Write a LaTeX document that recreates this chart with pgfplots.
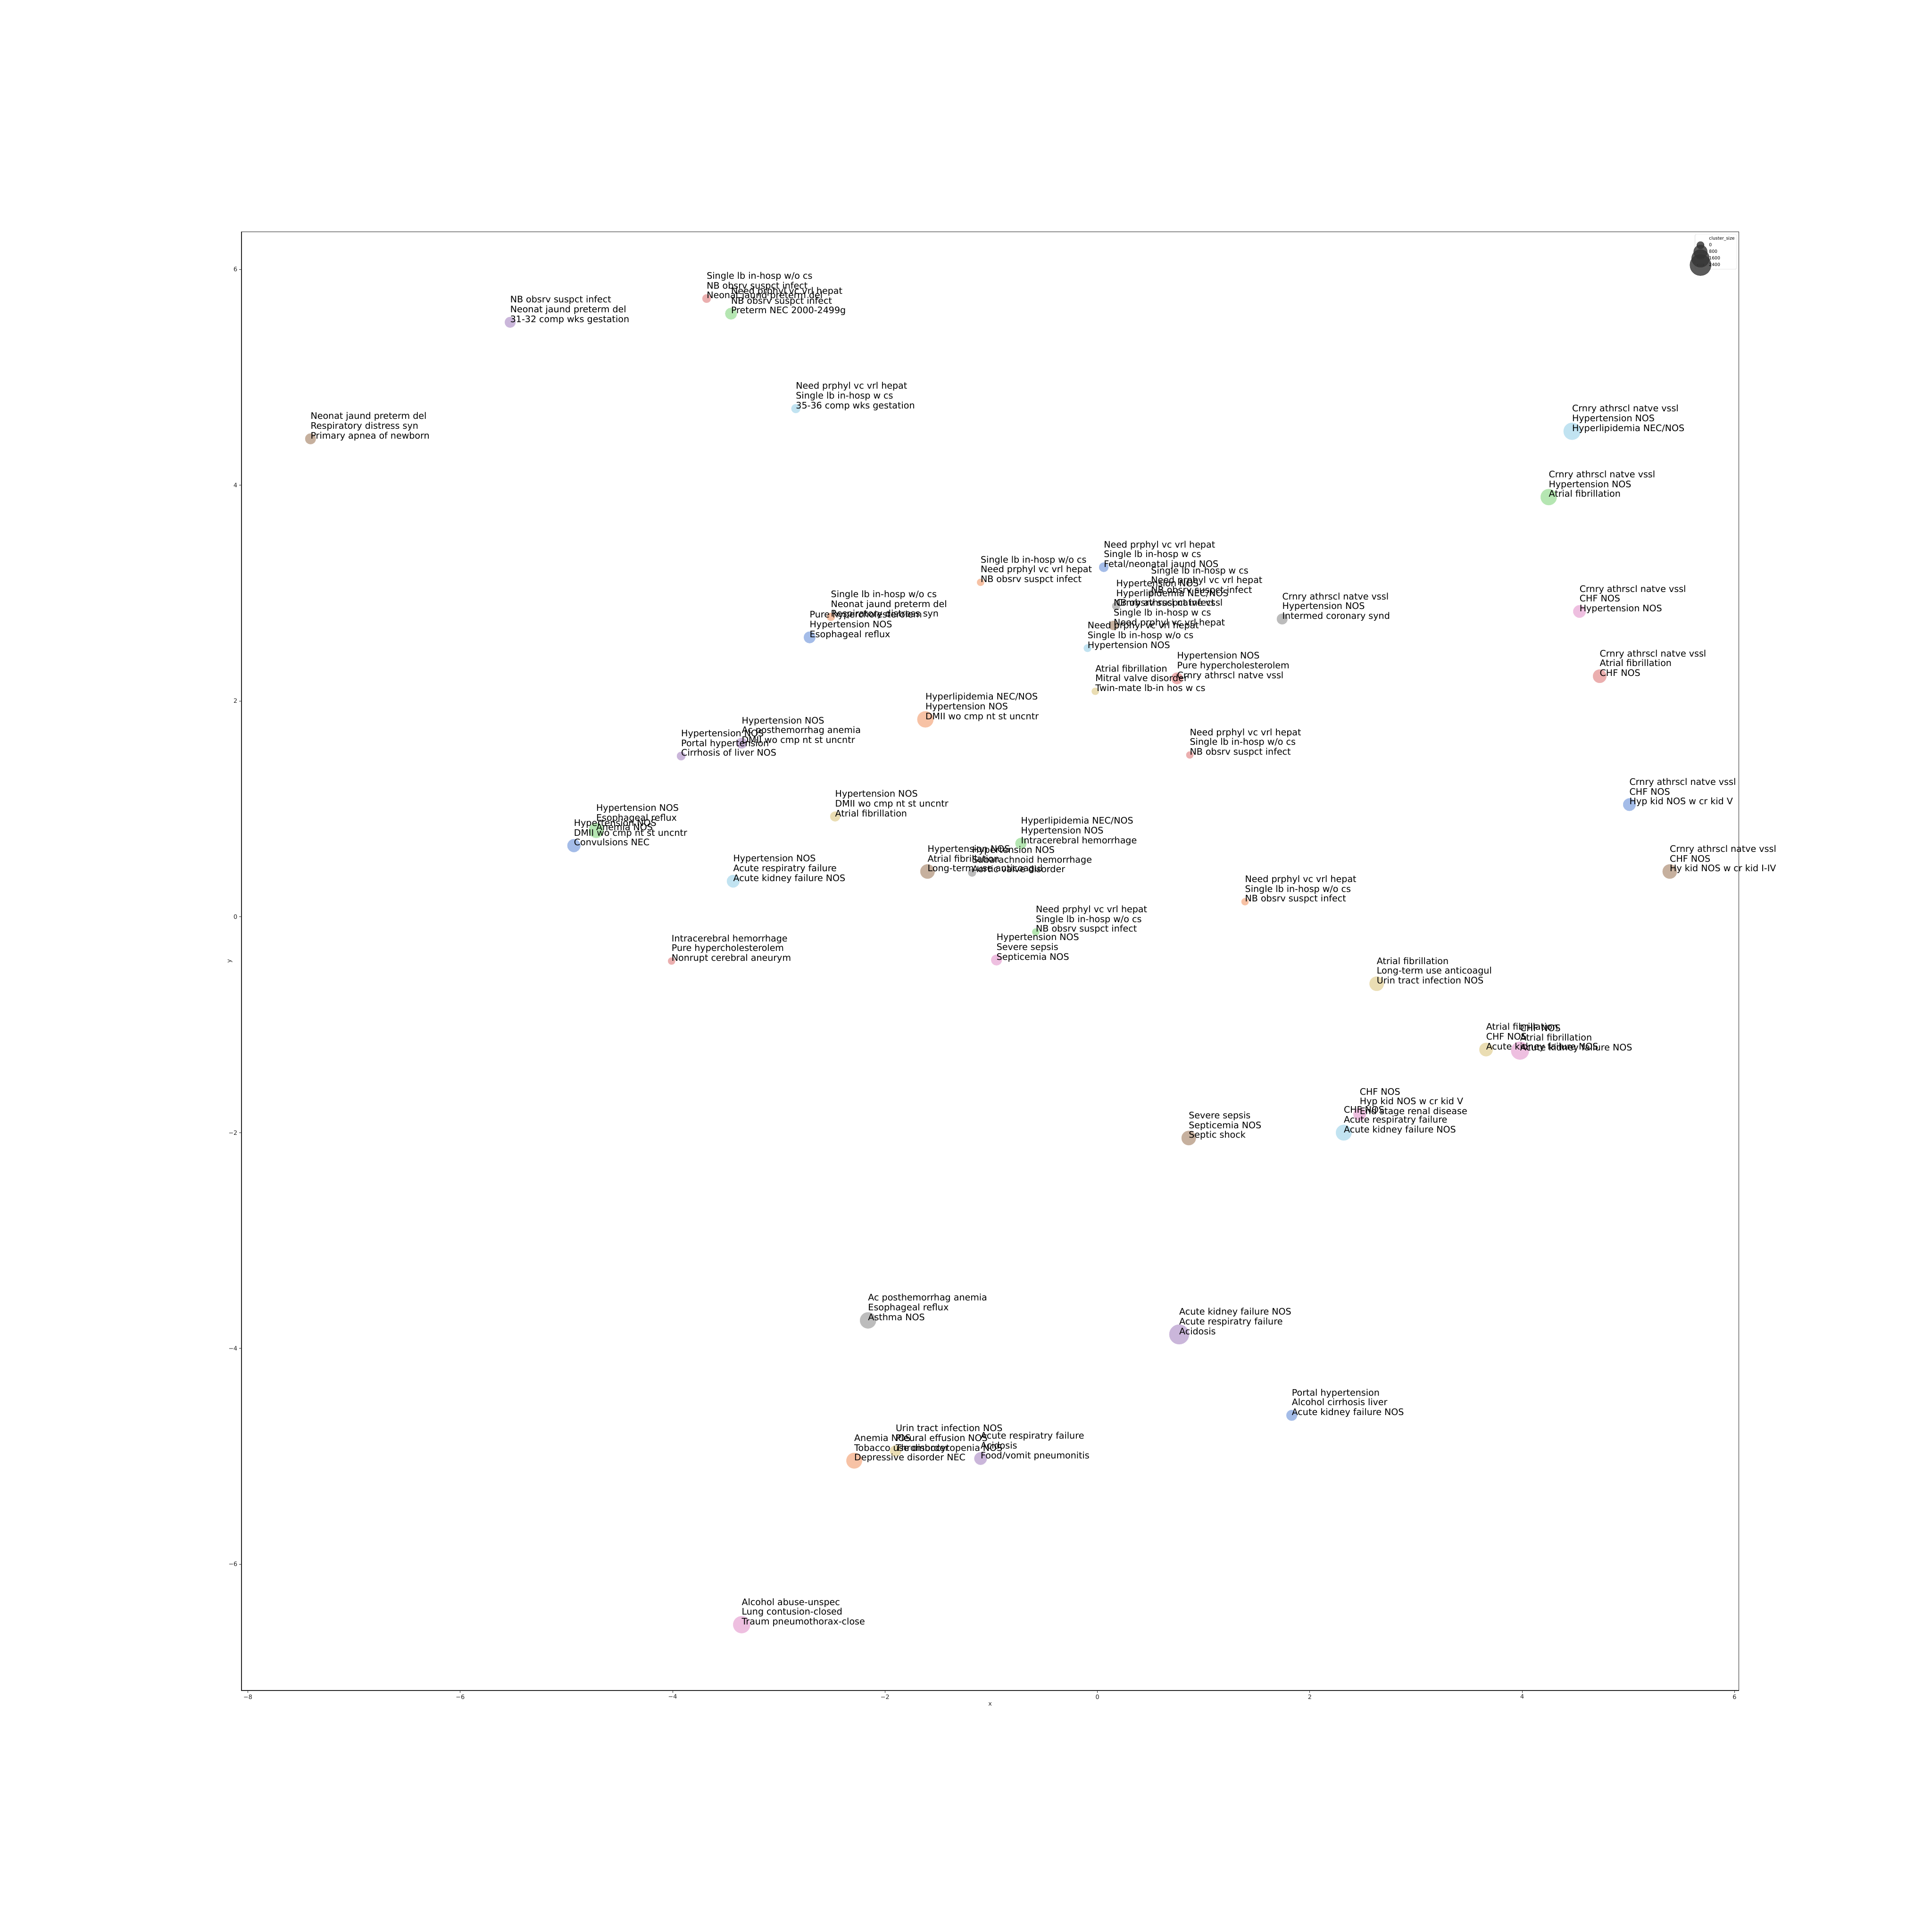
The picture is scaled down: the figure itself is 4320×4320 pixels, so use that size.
\documentclass[border=0pt]{standalone}
\usepackage{fontspec}
\setmainfont{DejaVu Sans}
\usepackage{pgfplots}
\pgfplotsset{compat=1.18}
\usepackage{pgfplotstable}

\definecolor{cb}{RGB}{164,188,232}
\definecolor{co}{RGB}{247,194,165}
\definecolor{cg}{RGB}{181,230,178}
\definecolor{cr}{RGB}{235,175,175}
\definecolor{cp}{RGB}{202,182,218}
\definecolor{cn}{RGB}{198,176,158}
\definecolor{ck}{RGB}{238,191,224}
\definecolor{ca}{RGB}{188,188,188}
\definecolor{cy}{RGB}{234,221,179}
\definecolor{cc}{RGB}{193,227,241}
\definecolor{legc}{RGB}{51,51,51}
\definecolor{spine}{RGB}{38,38,38}

\newcommand\lblfont{\fontsize{20.1}{21.7}\selectfont}
\newcommand\legfont{\fontsize{9.8}{11}\selectfont}
\newcommand\tickfont{\fontsize{13.5}{16}\selectfont}
\newcommand\lb[3]{\vbox{\baselineskip=21.8pt\lineskiplimit=-100pt\lineskip=0pt\hbox{#1}\hbox{#2}\hbox{#3}}}
% anchor coordinate inside the axis
\newcommand\C[3]{\coordinate (p#1) at (axis cs:#2,#3);}
% label drawn after the axis, on top of the marks
\newcommand\T[4]{\node[anchor=base west, inner sep=0pt, font=\lblfont] at (p#1) {\lb{#2}{#3}{#4}};}

\pgfplotstableread{
x y r c
-3.68 5.73 9.5 r
-3.45 5.59 13 g
-5.53 5.51 12 p
-7.41 4.43 12 n
-2.84 4.71 10 c
4.47 4.50 19 c
4.25 3.89 18 g
4.54 2.83 14 k
4.73 2.23 15 r
5.01 1.04 14 b
5.39 0.42 16 n
1.74 2.76 12 a
0.06 3.24 10.5 b
0.505 3.00 7.5 a
0.177 2.88 9 a
0.153 2.70 10.5 n
-0.093 2.49 8.5 c
-1.10 3.10 8 o
0.75 2.21 13 r
-0.02 2.09 8 y
0.87 1.50 8 r
-1.62 1.83 18 o
-2.51 2.78 9 o
-2.71 2.59 13 b
-3.92 1.49 9.5 p
-3.35 1.61 12 p
-4.93 0.66 14.5 b
-4.72 0.80 16.5 g
-2.47 0.93 11 y
-3.43 0.33 14 c
-0.72 0.68 12.5 g
-1.60 0.42 16 n
-1.18 0.41 9 a
-4.01 -0.41 8 r
-0.58 -0.14 8 g
-0.95 -0.40 12 k
1.39 0.14 8 o
2.63 -0.62 16 y
3.66 -1.23 15 y
3.98 -1.24 20 k
2.47 -1.83 14 k
2.32 -2.00 17.5 c
0.86 -2.05 16 n
-2.16 -3.74 18 a
0.77 -3.87 22 p
1.83 -4.62 12 b
-2.29 -5.04 17.5 o
-1.90 -4.95 12.5 y
-1.10 -5.02 14 p
-3.35 -6.56 19 k
}\pts

\begin{document}
\begin{tikzpicture}
\fill[white] (0,0) rectangle (4320pt,4320pt);
\useasboundingbox (0,0) rectangle (4320pt,4320pt);
\begin{axis}[
  at={(540pt,540pt)}, anchor=south west,
  scale only axis, width=3348pt, height=3262pt,
  xmin=-8.06, xmax=6.04, ymin=-7.17, ymax=6.35,
  clip=false,
  axis line style={line width=1.1pt, spine},
  tick align=outside, xtick pos=left, ytick pos=left,
  major tick length=4.9pt,
  tick style={line width=1.1pt, spine},
  xtick={-8,-6,-4,-2,0,2,4,6}, xticklabels={−8,−6,−4,−2,0,2,4,6},
  ytick={-6,-4,-2,0,2,4,6}, yticklabels={−6,−4,−2,0,2,4,6},
  ticklabel style={font=\tickfont, inner sep=4pt, text=spine},
  xlabel={x}, ylabel={y},
  label style={font=\tickfont, text=spine},
  ylabel style={xshift=0pt, yshift=-16pt},
  legend style={at={(1,1)}, anchor=north east, xshift=-5pt, yshift=-6pt,
    draw=black!20, fill=white, fill opacity=0.8, draw opacity=1, text opacity=1,
    rounded corners=2pt, font=\legfont, inner xsep=4pt, inner ysep=3.6pt,
    row sep=3pt, column sep=11pt,
    nodes={inner sep=0pt, text height=8.5pt, text depth=3.25pt}},
  legend cell align=left,
]
\addplot[scatter, only marks, mark=*, forget plot, point meta=explicit symbolic,
  scatter/classes={b={mark=*,cb}, o={mark=*,co}, g={mark=*,cg}, r={mark=*,cr},
    p={mark=*,cp}, n={mark=*,cn}, k={mark=*,ck}, a={mark=*,ca}, y={mark=*,cy}, c={mark=*,cc}},
  visualization depends on={\thisrow{r}\as\rr},
  scatter/@pre marker code/.append style={/tikz/mark size=\rr}]
  table[x=x, y=y, meta=c]{\pts};

\C{1}{-3.68}{5.73}
\C{2}{-3.45}{5.59}
\C{3}{-5.53}{5.51}
\C{4}{-7.41}{4.43}
\C{5}{-2.84}{4.71}
\C{6}{4.47}{4.50}
\C{7}{4.25}{3.89}
\C{8}{4.54}{2.83}
\C{9}{4.73}{2.23}
\C{10}{5.01}{1.04}
\C{11}{5.39}{0.42}
\C{12}{1.74}{2.76}
\C{13}{0.06}{3.24}
\C{14}{0.505}{3.00}
\C{15}{0.177}{2.88}
\C{16}{0.153}{2.70}
\C{17}{-0.093}{2.49}
\C{18}{-1.10}{3.10}
\C{19}{0.75}{2.21}
\C{20}{-0.02}{2.09}
\C{21}{0.87}{1.50}
\C{22}{-1.62}{1.83}
\C{23}{-2.51}{2.78}
\C{24}{-2.71}{2.59}
\C{25}{-3.92}{1.49}
\C{26}{-3.35}{1.61}
\C{27}{-4.93}{0.66}
\C{28}{-4.72}{0.80}
\C{29}{-2.47}{0.93}
\C{30}{-3.43}{0.33}
\C{31}{-0.72}{0.68}
\C{32}{-1.60}{0.42}
\C{33}{-1.18}{0.41}
\C{34}{-4.01}{-0.41}
\C{35}{-0.58}{-0.14}
\C{36}{-0.95}{-0.40}
\C{37}{1.39}{0.14}
\C{38}{2.63}{-0.62}
\C{39}{3.66}{-1.23}
\C{40}{3.98}{-1.24}
\C{41}{2.47}{-1.83}
\C{42}{2.32}{-2.00}
\C{43}{0.86}{-2.05}
\C{44}{-2.16}{-3.74}
\C{45}{0.77}{-3.87}
\C{46}{1.83}{-4.62}
\C{47}{-2.29}{-5.04}
\C{48}{-1.90}{-4.95}
\C{49}{-1.10}{-5.02}
\C{50}{-3.35}{-6.56}

\addlegendimage{empty legend}
\addlegendentry{cluster\_size}
\addlegendimage{legend image code/.code={\path (0pt,-2pt) rectangle (16pt,2pt); \fill[overlay,legc] (8pt,0pt) circle (8.3pt);}}
\addlegendentry{0}
\addlegendimage{legend image code/.code={\path (0pt,-2pt) rectangle (16pt,2pt); \fill[overlay,legc] (8pt,0pt) circle (15.3pt);}}
\addlegendentry{800}
\addlegendimage{legend image code/.code={\path (0pt,-2pt) rectangle (16pt,2pt); \fill[overlay,legc] (8pt,0pt) circle (19.9pt);}}
\addlegendentry{1600}
\addlegendimage{legend image code/.code={\path (0pt,-2pt) rectangle (16pt,2pt); \fill[overlay,legc] (8pt,0pt) circle (23.7pt);}}
\addlegendentry{2400}
\end{axis}

\T{1}{Single lb in-hosp w/o cs}{NB obsrv suspct infect}{Neonat jaund preterm del}
\T{2}{Need prphyl vc vrl hepat}{NB obsrv suspct infect}{Preterm NEC 2000-2499g}
\T{3}{NB obsrv suspct infect}{Neonat jaund preterm del}{31-32 comp wks gestation}
\T{4}{Neonat jaund preterm del}{Respiratory distress syn}{Primary apnea of newborn}
\T{5}{Need prphyl vc vrl hepat}{Single lb in-hosp w cs}{35-36 comp wks gestation}
\T{6}{Crnry athrscl natve vssl}{Hypertension NOS}{Hyperlipidemia NEC/NOS}
\T{7}{Crnry athrscl natve vssl}{Hypertension NOS}{Atrial fibrillation}
\T{8}{Crnry athrscl natve vssl}{CHF NOS}{Hypertension NOS}
\T{9}{Crnry athrscl natve vssl}{Atrial fibrillation}{CHF NOS}
\T{10}{Crnry athrscl natve vssl}{CHF NOS}{Hyp kid NOS w cr kid V}
\T{11}{Crnry athrscl natve vssl}{CHF NOS}{Hy kid NOS w cr kid I-IV}
\T{12}{Crnry athrscl natve vssl}{Hypertension NOS}{Intermed coronary synd}
\T{13}{Need prphyl vc vrl hepat}{Single lb in-hosp w cs}{Fetal/neonatal jaund NOS}
\T{14}{Single lb in-hosp w cs}{Need prphyl vc vrl hepat}{NB obsrv suspct infect}
\T{15}{Hypertension NOS}{Hyperlipidemia NEC/NOS}{Crnry athrscl natve vssl}
\T{16}{NB obsrv suspct infect}{Single lb in-hosp w cs}{Need prphyl vc vrl hepat}
\T{17}{Need prphyl vc vrl hepat}{Single lb in-hosp w/o cs}{Hypertension NOS}
\T{18}{Single lb in-hosp w/o cs}{Need prphyl vc vrl hepat}{NB obsrv suspct infect}
\T{19}{Hypertension NOS}{Pure hypercholesterolem}{Crnry athrscl natve vssl}
\T{20}{Atrial fibrillation}{Mitral valve disorder}{Twin-mate lb-in hos w cs}
\T{21}{Need prphyl vc vrl hepat}{Single lb in-hosp w/o cs}{NB obsrv suspct infect}
\T{22}{Hyperlipidemia NEC/NOS}{Hypertension NOS}{DMII wo cmp nt st uncntr}
\T{23}{Single lb in-hosp w/o cs}{Neonat jaund preterm del}{Respiratory distress syn}
\T{24}{Pure hypercholesterolem}{Hypertension NOS}{Esophageal reflux}
\T{25}{Hypertension NOS}{Portal hypertension}{Cirrhosis of liver NOS}
\T{26}{Hypertension NOS}{Ac posthemorrhag anemia}{DMII wo cmp nt st uncntr}
\T{27}{Hypertension NOS}{DMII wo cmp nt st uncntr}{Convulsions NEC}
\T{28}{Hypertension NOS}{Esophageal reflux}{Anemia NOS}
\T{29}{Hypertension NOS}{DMII wo cmp nt st uncntr}{Atrial fibrillation}
\T{30}{Hypertension NOS}{Acute respiratry failure}{Acute kidney failure NOS}
\T{31}{Hyperlipidemia NEC/NOS}{Hypertension NOS}{Intracerebral hemorrhage}
\T{32}{Hypertension NOS}{Atrial fibrillation}{Long-term use anticoagul}
\T{33}{Hypertension NOS}{Subarachnoid hemorrhage}{Aortic valve disorder}
\T{34}{Intracerebral hemorrhage}{Pure hypercholesterolem}{Nonrupt cerebral aneurym}
\T{35}{Need prphyl vc vrl hepat}{Single lb in-hosp w/o cs}{NB obsrv suspct infect}
\T{36}{Hypertension NOS}{Severe sepsis}{Septicemia NOS}
\T{37}{Need prphyl vc vrl hepat}{Single lb in-hosp w/o cs}{NB obsrv suspct infect}
\T{38}{Atrial fibrillation}{Long-term use anticoagul}{Urin tract infection NOS}
\T{39}{Atrial fibrillation}{CHF NOS}{Acute kidney failure NOS}
\T{40}{CHF NOS}{Atrial fibrillation}{Acute kidney failure NOS}
\T{41}{CHF NOS}{Hyp kid NOS w cr kid V}{End stage renal disease}
\T{42}{CHF NOS}{Acute respiratry failure}{Acute kidney failure NOS}
\T{43}{Severe sepsis}{Septicemia NOS}{Septic shock}
\T{44}{Ac posthemorrhag anemia}{Esophageal reflux}{Asthma NOS}
\T{45}{Acute kidney failure NOS}{Acute respiratry failure}{Acidosis}
\T{46}{Portal hypertension}{Alcohol cirrhosis liver}{Acute kidney failure NOS}
\T{47}{Anemia NOS}{Tobacco use disorder}{Depressive disorder NEC}
\T{48}{Urin tract infection NOS}{Pleural effusion NOS}{Thrombocytopenia NOS}
\T{49}{Acute respiratry failure}{Acidosis}{Food/vomit pneumonitis}
\T{50}{Alcohol abuse-unspec}{Lung contusion-closed}{Traum pneumothorax-close}
\end{tikzpicture}
\end{document}
